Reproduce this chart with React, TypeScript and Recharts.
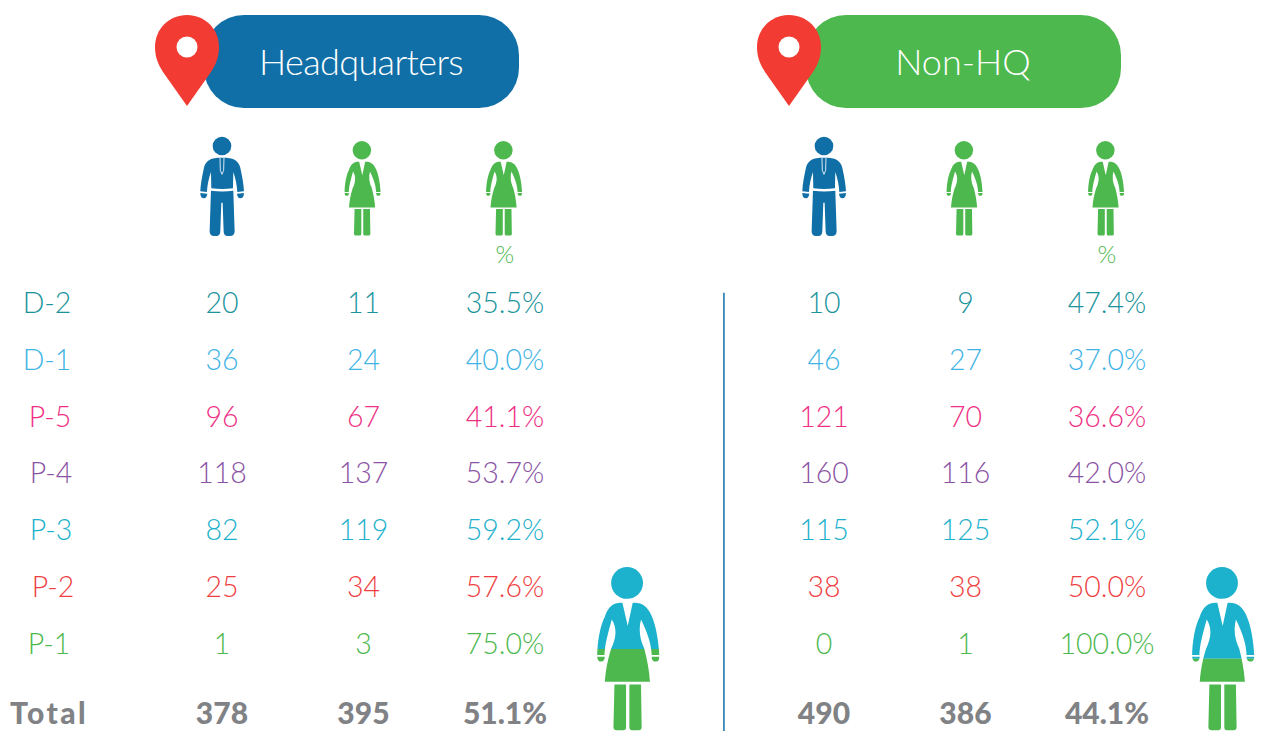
import React from 'react';
import { ScatterChart, Scatter, XAxis, YAxis, ReferenceLine, Customized } from 'recharts';

const rowLabels = ['D-2', 'D-1', 'P-5', 'P-4', 'P-3', 'P-2', 'P-1', 'Total'];
const rowColors = ['#1a939c', '#3fb4e5', '#ee2f84', '#8a53a3', '#1cb1cc', '#ef3e42', '#4db84e', '#808285'];
// the total row sits a little lower than the regular spacing
const rowSlots = [0, 1, 2, 3, 4, 5, 6, 7.21];

const hqMen = [20, 36, 96, 118, 82, 25, 1, 378];
const hqWomen = [11, 24, 67, 137, 119, 34, 3, 395];
const hqPct = [35.5, 40.0, 41.1, 53.7, 59.2, 57.6, 75.0, 51.1];

const nonMen = [10, 46, 121, 160, 115, 38, 0, 490];
const nonWomen = [9, 27, 70, 116, 125, 38, 1, 386];
const nonPct = [47.4, 37.0, 36.6, 42.0, 52.1, 50.0, 100.0, 44.1];

const BLUE = '#116fa7';
const GREEN = '#4db84e';
const TEAL = '#1cb1cc';
const RED = '#f23b32';
const FONT = 'Lato, sans-serif';
const LABEL_X = [47, 47, 50, 51, 51, 53, 49, 49];

const WOMAN_HEAD = { cx: -3, cy: 48, r: 48 };
const WOMAN_PATH =
  'M-17 108 L-1 178 L14 108 C40 106 60 118 72 150 C85 180 92 225 94 265 L71 265 C70 235 62 205 39 158 ' +
  'C32 185 34 215 49 246 C58 280 64 315 66 346 L-70 346 C-68 315 -62 280 -51 246 C-36 215 -32 185 -49 158 ' +
  'C-62 205 -70 235 -71 265 L-93 265 C-92 225 -85 180 -70 150 C-60 118 -42 106 -17 108 Z ' +
  'M-93 270 L-70 270 C-70 280 -76 285 -82 285 C-88 285 -92 280 -93 270 Z ' +
  'M71 270 L94 270 C94 280 90 285 83 285 C76 285 71 280 71 270 Z ' +
  'M-41 354 L-6 354 L-6 482 Q-6 492 -14 492 L-34 492 Q-44 492 -44 482 Z ' +
  'M4 354 L39 354 L41 482 Q41 492 32 492 L12 492 Q4 492 4 482 Z';
const WOMAN_HEIGHT = 494;

const MAN_PATH =
  'M-13 62 C-40 64 -50 76 -54 92 C-60 120 -64 140 -65 163 L-45 165 C-44 145 -40 125 -33 105 L-32 154 C-10 157 10 157 33 154 ' +
  'L34 105 C41 125 45 145 46 165 L66 163 C65 140 61 120 55 92 C51 76 41 64 14 62 Z ' +
  'M-65 168 L-44 170 C-45 178 -48 184 -54 184 C-61 184 -65 178 -65 168 Z ' +
  'M45 170 L66 168 C66 178 62 184 55 184 C49 184 46 178 45 170 Z ' +
  'M-33 161 C-10 164 12 164 34 161 L38 283 Q38 297 24 297 L17 297 Q5 297 5 283 L2 197 L-2 197 L-5 283 Q-5 297 -17 297 L-24 297 Q-37 297 -37 283 Z';

const Woman = ({ x, y, height, fill }: { x: number; y: number; height: number; fill: string }) => {
  const s = height / WOMAN_HEIGHT;
  return (
    <g transform={`translate(${x} ${y}) scale(${s})`} fill={fill}>
      <circle {...WOMAN_HEAD} />
      <path d={WOMAN_PATH} />
    </g>
  );
};

const Man = ({ x, y, height }: { x: number; y: number; height: number }) => {
  const s = height / 297;
  return (
    <g transform={`translate(${x} ${y}) scale(${s})`} fill={BLUE}>
      <circle cx={0} cy={27} r={28} />
      <path d={MAN_PATH} />
      <path d="M-6 63 L-5 100 L0 112 L5 100 L6 63" fill="none" stroke="#fff" strokeWidth={2.5} />
    </g>
  );
};

const buildRows = (values: number[], col: number, format: (v: number) => string) =>
  values.map((v, i) => ({ col, slot: rowSlots[i], text: format(v), color: rowColors[i], total: i === 7 }));

const ValueMark = (props: any) => {
  const { cx, cy, payload } = props;
  return (
    <text
      x={cx}
      y={cy}
      dy={payload.total ? 11 : 10}
      textAnchor="middle"
      fontFamily={FONT}
      fontSize={payload.total ? 30 : 28.5}
      fontWeight={payload.total ? 900 : 300}
      fill={payload.color}
    >
      {payload.text}
    </text>
  );
};

const FigureMark = (props: any) => {
  const { cx, cy, payload } = props;
  const h = 164;
  const top = cy - h;
  const split = cy - (h * payload.fill) / 100;
  const id = `fig-${payload.id}`;
  return (
    <g>
      <defs>
        <clipPath id={`${id}-a`}>
          <rect x={cx - 50} y={top - 2} width={100} height={split - top + 2} />
        </clipPath>
        <clipPath id={`${id}-b`}>
          <rect x={cx - 50} y={split} width={100} height={cy - split + 2} />
        </clipPath>
      </defs>
      <g clipPath={`url(#${id}-a)`}>
        <Woman x={cx} y={top} height={h} fill={TEAL} />
      </g>
      <g clipPath={`url(#${id}-b)`}>
        <Woman x={cx} y={top} height={h} fill={GREEN} />
      </g>
    </g>
  );
};

const HeaderPill = ({ title, fill, spacing }: { title: string; fill: string; spacing: number }) => (
  <g>
    <rect x={204} y={15} width={315} height={93} rx={40} fill={fill} />
    <path d="M187 15 C205 15 219 29 219 47 C219 57 216 64 211 72 L187 106 L163 72 C158 64 155 57 155 47 C155 29 169 15 187 15 Z" fill={RED} />
    <circle cx={187} cy={47} r={10.5} fill="#fff" />
    <text x={361} y={75} textAnchor="middle" fontFamily={FONT} fontSize={36} fontWeight={300} letterSpacing={spacing} fill="#fff">
      {title}
    </text>
  </g>
);

const ColumnIcon = (props: any) => {
  const { x, y, payload } = props;
  if (payload.value === 0) return <Man x={x} y={y - 133} height={99} />;
  return (
    <g>
      <Woman x={x - 1} y={y - 129} height={95} fill={GREEN} />
      {payload.value === 2 && (
        <text x={x} y={y - 7} textAnchor="middle" fontFamily={FONT} fontSize={24} fontWeight={300} fill={GREEN}>
          %
        </text>
      )}
    </g>
  );
};

const RowLabel = (props: any) => {
  const { y, payload } = props;
  const i = rowSlots.indexOf(payload.value);
  return (
    <text
      x={LABEL_X[i]}
      y={y}
      dy={i === 7 ? 11 : 10}
      textAnchor="middle"
      fontFamily={FONT}
      fontSize={i === 7 ? 30 : 28.5}
      fontWeight={i === 7 ? 900 : 300}
      letterSpacing={i === 7 ? 2.4 : 0}
      fill={rowColors[i]}
    >
      {rowLabels[i]}
    </text>
  );
};

interface PanelProps {
  id: string;
  title: string;
  titleSpacing: number;
  pillColor: string;
  men: number[];
  women: number[];
  pct: number[];
  figureCol: number;
  figureFill: number;
  showRows: boolean;
  divider: boolean;
  left: number;
}

const Panel: React.FC<PanelProps> = ({ id, title, titleSpacing, pillColor, men, women, pct, figureCol, figureFill, showRows, divider, left }) => {
  const asCount = (v: number) => String(v);
  const asPct = (v: number) => `${v.toFixed(1)}%`;
  return (
    <div style={{ position: 'absolute', left, top: 0 }}>
      <ScatterChart width={664} height={731} margin={{ top: 0, right: 0, bottom: 0, left: 0 }}>
        <XAxis
          type="number"
          dataKey="col"
          orientation="top"
          height={270}
          domain={[-0.862, 3.124]}
          ticks={[0, 1, 2]}
          allowDataOverflow
          axisLine={false}
          tickLine={false}
          tickSize={0}
          tickMargin={0}
          interval={0}
          tick={ColumnIcon}
        />
        <YAxis
          type="number"
          dataKey="slot"
          width={100}
          reversed
          domain={[-0.58, 7.53]}
          ticks={rowSlots}
          allowDataOverflow
          axisLine={false}
          tickLine={false}
          interval={0}
          tick={showRows ? RowLabel : false}
        />
        <Customized component={() => <HeaderPill title={title} fill={pillColor} spacing={titleSpacing} />} />
        {divider && (
          <ReferenceLine
            segment={[
              { x: -0.707, y: -0.18 },
              { x: -0.707, y: 7.53 },
            ]}
            stroke={BLUE}
            strokeWidth={1.5}
          />
        )}
        <Scatter data={buildRows(men, 0, asCount)} shape={ValueMark} isAnimationActive={false} />
        <Scatter data={buildRows(women, 1, asCount)} shape={ValueMark} isAnimationActive={false} />
        <Scatter data={buildRows(pct, 2, asPct)} shape={ValueMark} isAnimationActive={false} />
        <Scatter
          data={[{ col: figureCol, slot: 7.53, fill: figureFill, id }]}
          shape={FigureMark}
          isAnimationActive={false}
        />
      </ScatterChart>
    </div>
  );
};

export default function App() {
  return (
    <div style={{ position: 'absolute', left: 0, top: 0, width: 1266, height: 731, overflow: 'hidden', background: '#fff' }}>
      <Panel
        id="hq"
        title="Headquarters"
        titleSpacing={-0.6}
        pillColor={BLUE}
        men={hqMen}
        women={hqWomen}
        pct={hqPct}
        figureCol={2.87}
        figureFill={50}
        showRows
        divider={false}
        left={0}
      />
      <Panel
        id="non"
        title="Non-HQ"
        titleSpacing={0}
        pillColor={GREEN}
        men={nonMen}
        women={nonWomen}
        pct={nonPct}
        figureCol={2.82}
        figureFill={44}
        showRows={false}
        divider
        left={602}
      />
    </div>
  );
}
